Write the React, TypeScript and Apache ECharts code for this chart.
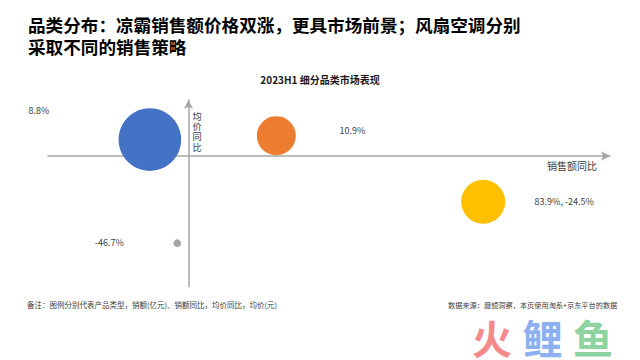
import React, { useEffect, useRef } from "react";
import * as echarts from "echarts";

// Categories (not displayed), sales growth (%), avg price growth (%), sales (亿元, estimated)
const categories = ["电风扇", "凉霸", "空调扇", "其他"];
const salesGrowth = [-11.0, 25.0, 83.9, -3.2];
const priceGrowth = [8.8, 10.9, -24.5, -46.7];
const salesValue = [80, 31, 39.5, 1.2];
const showBoth = [false, false, true, false];
const colors = ["#4472C4", "#ED7D31", "#FFC000", "#A5A5A5"];
const labelOffsets: [number, number][] = [
  [-111, -29.5],
  [76, -5],
  [81, 0],
  [-68, -0.7],
];

const titleLines = [
  "品类分布：凉霸销售额价格双涨，更具市场前景；风扇空调分别",
  "采取不同的销售策略",
];
const chartTitle = "2023H1 细分品类市场表现";
const yAxisNameChars = ["均", "价", "同", "比"];
const noteLeft = "备注：图例分别代表产品类型，销额(亿元)、销额同比，均价同比，均价(元)";
const noteRight = "数据来源：魔镜洞察，本页使用淘系+京东平台的数据";
const watermark = ["火", "鲤", "鱼"];
const watermarkColors = ["#F58A8A", "#8DB1F0", "#8ED3A0"];

const FONT = '"Noto Sans CJK SC", "Noto Sans", sans-serif';

export default function App() {
  const ref = useRef<HTMLDivElement>(null);
  useEffect(() => {
    if (!ref.current) return;
    const chart = echarts.init(ref.current, null, { renderer: "svg" });
    const data = categories.map((name, i) => ({
      name,
      value: [salesGrowth[i], priceGrowth[i], salesValue[i]],
      itemStyle: { color: colors[i], opacity: 1 },
      label: {
        show: true,
        position: "inside",
        offset: labelOffsets[i],
        formatter: showBoth[i]
          ? `${salesGrowth[i].toFixed(1)}%, ${priceGrowth[i].toFixed(1)}%`
          : `${priceGrowth[i].toFixed(1)}%`,
      },
    }));
    const axisLineStyle = { color: "#A6A6A6", width: 1.5 };
    chart.setOption({
      animation: false,
      backgroundColor: "#ffffff",
      textStyle: { fontFamily: FONT },
      title: [
        {
          text: chartTitle,
          left: "center",
          top: 69,
          textStyle: { fontSize: 10, fontWeight: "bold", color: "#1a1a1a", fontFamily: FONT },
        },
      ],
      grid: { left: 48, right: 30, top: 100, bottom: 73.3 },
      xAxis: {
        type: "value",
        min: -40,
        max: 120,
        name: "销售额同比",
        nameLocation: "end",
        nameGap: -63,
        nameTextStyle: {
          fontSize: 10,
          color: "#404040",
          verticalAlign: "top",
          align: "left",
          padding: [5, 0, 0, 0],
          fontFamily: FONT,
        },
        axisLine: {
          show: true,
          onZero: true,
          symbol: ["none", "arrow"],
          symbolSize: [7, 9],
          lineStyle: axisLineStyle,
        },
        axisTick: { show: false },
        axisLabel: { show: false },
        splitLine: { show: false },
      },
      yAxis: {
        type: "value",
        min: -70,
        max: 30,
        axisLine: {
          show: true,
          onZero: true,
          symbol: ["none", "arrow"],
          symbolSize: [7, 9],
          lineStyle: axisLineStyle,
        },
        axisTick: { show: false },
        axisLabel: { show: false },
        splitLine: { show: false },
      },
      series: [
        {
          type: "scatter",
          data,
          symbolSize: (val: number[]) => 7 * Math.sqrt(val[2]),
          label: { fontSize: 9, color: "#404040", fontFamily: FONT },
          emphasis: { disabled: true },
        },
      ],
      graphic: [
        {
          type: "text",
          left: 28,
          top: 13,
          style: {
            text: titleLines.join("\n"),
            fontSize: 17.6,
            lineHeight: 22,
            fontWeight: "bold",
            fill: "#000000",
            fontFamily: FONT,
          },
        },
        ...yAxisNameChars.map((ch, i) => ({
          type: "text",
          left: 192.5,
          top: 110.8 + i * 10.3,
          style: { text: ch, fontSize: 9.2, lineHeight: 10, fill: "#404040", fontFamily: FONT },
        })),
        {
          type: "text",
          left: 27,
          top: 301,
          style: { text: noteLeft, fontSize: 7.5, fill: "#404040", fontFamily: FONT },
        },
        {
          type: "text",
          left: 448,
          top: 301,
          style: { text: noteRight, fontSize: 7.2, fill: "#404040", fontFamily: FONT },
        },
        ...watermark.map((ch, i) => ({
          type: "text",
          left: 472 + i * 50.5,
          top: 317,
          style: {
            text: ch,
            fontSize: 40,
            lineHeight: 40,
            fontWeight: "bold",
            fill: watermarkColors[i],
            fontFamily: FONT,
          },
        })),
      ],
    });
    return () => chart.dispose();
  }, []);
  return (
    <div
      ref={ref}
      style={{ position: "fixed", left: 0, top: 0, width: 640, height: 360 }}
    />
  );
}
